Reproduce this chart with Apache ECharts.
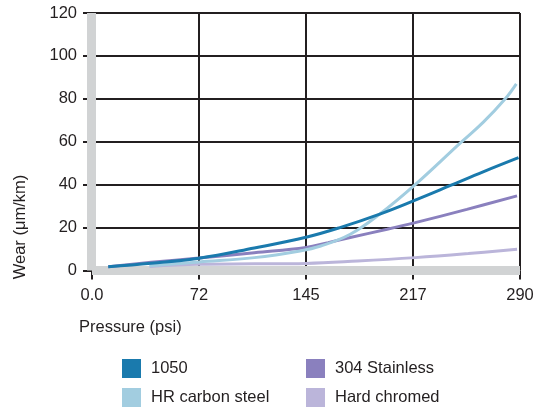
<!DOCTYPE html>
<html>
<head>
<meta charset="utf-8">
<script src="https://cdn.jsdelivr.net/npm/echarts@6/dist/echarts.min.js"></script>
<style>
html,body{margin:0;padding:0;background:#fff;}
#chart{width:540px;height:408px;}
</style>
</head>
<body>
<div id="chart"></div>
<script>
var FONT = '"Liberation Sans", Arial, Helvetica, sans-serif';
var TEXT = '#231f20';
var FS = 16.5;

var xTickLabels = ['0.0', '72', '145', '217', '290'];
var seriesNames = ['1050', 'HR carbon steel', '304 Stainless', 'Hard chromed'];
var seriesColors = ['#1a7aad', '#a2cde0', '#8a80be', '#bbb5da'];

// pressure (psi) / wear (um/km) pairs
var x1050 = [11, 40, 72.5, 110, 145, 168, 195, 219, 242.5, 265, 289];
var y1050 = [1.8, 3.4, 5.7, 10.5, 15.5, 20, 26.3, 32.8, 39.5, 46, 52.6];

var xHR = [39, 72.5, 110, 141, 155, 175, 195, 219, 250, 265, 280, 287.5];
var yHR = [2.2, 4, 6, 9.1, 11.4, 16.9, 26.3, 40, 59.7, 69, 80, 87];

var x304 = [11, 40, 72.5, 110, 145, 160, 175, 200, 219, 254, 288];
var y304 = [1.8, 3.8, 5.8, 8.3, 10.7, 13, 15.4, 19.2, 22.3, 28.5, 34.8];

var xHard = [39, 72.5, 110, 145, 180, 219, 255, 288];
var yHard = [1.9, 2.9, 3.1, 3.3, 4.4, 6, 7.9, 9.9];

function pairs(xs, ys) {
  return xs.map(function (x, i) { return [x, ys[i]]; });
}

var seriesData = [pairs(x1050, y1050), pairs(xHR, yHR), pairs(x304, y304), pairs(xHard, yHard)];
var drawOrder = [3, 2, 1, 0];

var chart = echarts.init(document.getElementById('chart'), null, {renderer: 'canvas'});

var series = drawOrder.map(function (i) {
  return {
    name: seriesNames[i],
    type: 'line',
    smooth: 0.4,
    showSymbol: false,
    symbol: 'none',
    data: seriesData[i],
    lineStyle: {color: seriesColors[i], width: 3},
    itemStyle: {color: seriesColors[i]},
    z: 3
  };
});

function legendCol(left, names) {
  return {
    orient: 'vertical', left: left, top: 359, width: 200, height: 120, padding: 0,
    itemWidth: 19, itemHeight: 19, itemGap: 10,
    icon: 'rect', selectedMode: false,
    data: names,
    textStyle: {fontSize: FS, color: TEXT, fontFamily: FONT, padding: [0, 0, 0, 5]}
  };
}

var option = {
  animation: false,
  textStyle: {fontFamily: FONT, color: TEXT},
  color: seriesColors,
  grid: {left: 92, right: 20, top: 13, bottom: 137.5, containLabel: false},
  xAxis: [{
    type: 'value', min: 0, max: 290, interval: 72.5, position: 'bottom', z: 0,
    axisLine: {show: false, onZero: false},
    axisTick: {show: true, length: 9, lineStyle: {color: TEXT, width: 2}},
    splitLine: {show: true, lineStyle: {color: TEXT, width: 2}},
    axisLabel: {
      margin: 16, fontSize: FS, color: TEXT, fontFamily: FONT,
      formatter: function (v) { return xTickLabels[Math.round(v / 72.5)]; }
    }
  }, {
    type: 'value', min: 0, max: 290, position: 'bottom', z: 1,
    axisLine: {show: true, onZero: false, lineStyle: {color: '#d1d3d4', width: 9, cap: 'butt'}},
    axisTick: {show: false}, splitLine: {show: false}, axisLabel: {show: false}
  }],
  yAxis: [{
    type: 'value', min: 0, max: 120, interval: 20, position: 'left', z: 0,
    axisLine: {show: false, onZero: false},
    axisTick: {show: true, length: 9, lineStyle: {color: TEXT, width: 2}},
    splitLine: {show: true, lineStyle: {color: TEXT, width: 2}},
    axisLabel: {margin: 15, fontSize: FS, color: TEXT, fontFamily: FONT}
  }, {
    type: 'value', min: 0, max: 120, position: 'left', offset: 0.5, z: 1,
    axisLine: {show: true, onZero: false, lineStyle: {color: '#d1d3d4', width: 9, cap: 'butt'}},
    axisTick: {show: false}, splitLine: {show: false}, axisLabel: {show: false}
  }],
  legend: [
    legendCol(122, [seriesNames[0], seriesNames[1]]),
    legendCol(306, [seriesNames[2], seriesNames[3]])
  ],
  graphic: [{
    type: 'text', x: 20, y: 227, rotation: Math.PI / 2,
    style: {text: 'Wear (μm/km)', fontSize: FS, fontFamily: FONT, fill: TEXT,
      textAlign: 'center', textVerticalAlign: 'middle'}
  }, {
    type: 'text', x: 79, y: 327,
    style: {text: 'Pressure (psi)', fontSize: FS, fontFamily: FONT, fill: TEXT,
      textAlign: 'left', textVerticalAlign: 'middle'}
  }],
  series: series
};

chart.setOption(option);
</script>
</body>
</html>
